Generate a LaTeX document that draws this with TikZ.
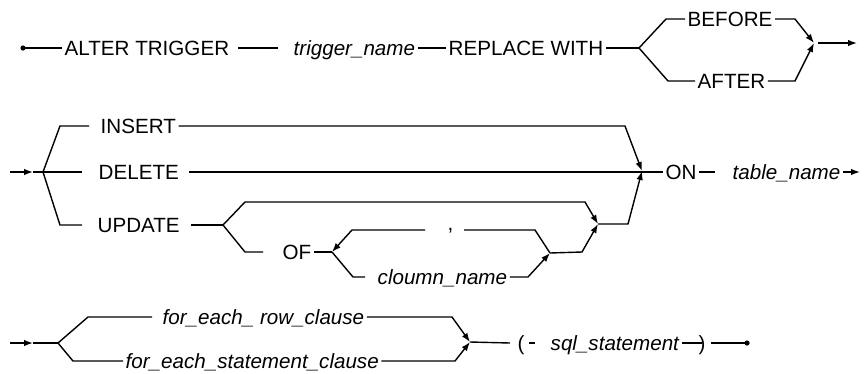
\documentclass[tikz,border=0pt]{standalone}
\usepackage{fontspec}
\setmainfont{Liberation Sans}
\usetikzlibrary{arrows.meta}

\begin{document}
\begin{tikzpicture}[x=1pt,y=-1pt,line width=1.4pt,
  kwd/.style={inner xsep=2pt,inner ysep=0pt,text height=14.7pt,text depth=0pt,anchor=west,font=\fontsize{20.6}{24}\selectfont},
  ident/.style={kwd,font=\fontsize{20.6}{24}\selectfont\itshape},
  punct/.style={kwd,text height=0pt},
  arr/.style={-{Latex[length=9pt,width=6.5pt]}}]
\useasboundingbox (0,0) rectangle (864,373);

%%% ALTER TRIGGER LINE
\path (23,48) coordinate (start) (639,48) coordinate (b1) (814,43) coordinate (m1) (857,43) coordinate (e1);
\fill (start) circle (2.6);
\path (62,48) node[kwd] (alter) {ALTER TRIGGER};
\path (291,48) node[ident] (trig) {trigger\_name};
\path (446,48) node[kwd] (repl) {REPLACE WITH};
\path (685,19) node[kwd] (before) {BEFORE};
\path (695,81) node[kwd] (after) {AFTER};
\draw (start) -- (alter.west);
\draw ([xshift=6]alter.east) -- ([xshift=-13]trig.west);
\draw (trig.east) -- (repl.west);
\draw (repl.east) -- (b1);
\draw (b1) -- (666,19) -- (before.west);
\draw[arr] (before.east) -- (795,19) -- (m1);
\draw (b1) -- (668,81) -- (after.west);
\draw[arr] (after.east) -- (795,81) -- (m1);
\draw[arr] ([xshift=4]m1) -- (e1);

%%% EVENT LINE
\path (10,172) coordinate (s2) (33,172) coordinate (a2) (43,172) coordinate (b2)
      (642,171) coordinate (m2) (860,172) coordinate (e2)
      (223,225) coordinate (b3) (598,224) coordinate (m3)
      (332,252) coordinate (b4) (550,253) coordinate (m4);
\path (98,126) node[kwd] (ins) {INSERT};
\path (96,172) node[kwd] (del) {DELETE};
\path (95,225) node[kwd] (upd) {UPDATE};
\path (663,172) node[kwd] (on) {ON};
\path (730,172) node[ident] (tab) {table\_name};
\path (280,252) node[kwd] (of) {OF};
\path (445,230) node[punct] (com) {,};
\path (375,277) node[ident] (col) {cloumn\_name};
\draw[arr] (s2) -- (a2);
\draw (a2) -- (b2);
\draw (b2) -- (60,126) -- ([xshift=-9]ins.west);
\draw[arr] (ins.east) -- (625,126) -- (m2);
\draw (b2) -- ([xshift=-14]del.west);
\draw ([xshift=7]del.east) -- (on.west);
\draw (on.east) -- ([xshift=-15]tab.west);
\draw[arr] (tab.east) -- (e2);
\draw (b2) -- (60,225) -- ([xshift=-13]upd.west);
\draw ([xshift=9]upd.east) -- (b3);
\draw[arr] (b3) -- (245,202) -- (585,202) -- (m3);
\draw (b3) -- (245,252) -- ([xshift=-17]of.west);
\draw (of.east) -- (b4);
\draw (m4) -- (535,230) -- ([xshift=8]com.east);
\draw[arr] ([xshift=-20]com.west) -- (352,230) -- (b4);
\draw (b4) -- (353,277) -- ([xshift=-10]col.west);
\draw[arr] (col.east) -- (528,277) -- (m4);
\draw[arr] (m4) -- (582,252) -- (m3);
\draw[arr] (m3) -- (628,224) -- (m2);

%%% CLAUSE LINE
\path (10,343) coordinate (s3) (33,343) coordinate (a3) (58,343) coordinate (b5)
      (470,342) coordinate (m5) (747,343) coordinate (stop);
\path (160,317) node[ident] (row) {for\_each\_ row\_clause};
\path (123,361) node[ident] (stmt) {for\_each\_statement\_clause};
\path (515,343) node[kwd] (lp) {(};
\path (548,343) node[ident] (sql) {sql\_statement};
\path (696,343) node[kwd] (rp) {)};
\draw[arr] (s3) -- (a3);
\draw (a3) -- (b5);
\draw (b5) -- (88,317) -- ([xshift=-8]row.west);
\draw[arr] (row.east) -- (452,317) -- (m5);
\draw (b5) -- (73,361) -- (stmt.west);
\draw[arr] (stmt.east) -- (455,361) -- (m5);
\draw (m5) -- ([xshift=-5]lp.west);
\draw ([xshift=2]lp.east) -- ([xshift=-13]sql.west);
\draw (sql.east) -- ([xshift=6]rp.west);
\draw ([xshift=3]rp.east) -- (stop);
\fill (stop) circle (2.6);
\end{tikzpicture}
\end{document}
